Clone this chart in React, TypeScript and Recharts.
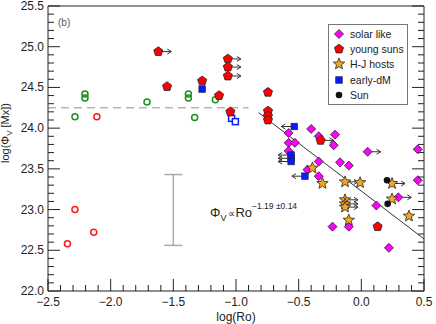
import {
  ComposedChart,
  Scatter,
  XAxis,
  YAxis,
  ReferenceLine,
  ErrorBar,
  Legend,
  Customized,
} from 'recharts';

// lim: 1 = lower limit on Ro (arrow right), -1 = upper limit (arrow left)
const solarLike = [
  { x: -0.58, y: 23.94 }, { x: -0.4, y: 23.99 }, { x: -0.34, y: 23.9 },
  { x: -0.21, y: 23.92 }, { x: -0.22, y: 23.79 }, { x: -0.58, y: 23.82 },
  { x: -0.53, y: 23.82 }, { x: -0.58, y: 23.72 }, { x: -0.34, y: 23.59 },
  { x: -0.43, y: 23.49 }, { x: -0.34, y: 23.41 }, { x: -0.17, y: 23.58 },
  { x: -0.1, y: 23.54 }, { x: 0.05, y: 23.71, lim: 1 }, { x: 0.45, y: 23.74 },
  { x: 0.45, y: 23.36 }, { x: 0.295, y: 23.15, lim: 1 }, { x: 0.12, y: 23.05 },
  { x: -0.23, y: 22.79 }, { x: -0.1, y: 22.79 }, { x: 0.22, y: 22.53 },
];

const youngSuns = [
  { x: -1.62, y: 24.94, lim: 1 }, { x: -1.55, y: 24.51 }, { x: -1.27, y: 24.58 },
  { x: -1.135, y: 24.4 }, { x: -1.065, y: 24.85, lim: 1 }, { x: -1.065, y: 24.75, lim: 1 },
  { x: -1.065, y: 24.64, lim: 1 }, { x: -1.045, y: 24.2 }, { x: -0.745, y: 24.44 },
  { x: -0.745, y: 24.21 }, { x: -0.745, y: 24.15 }, { x: -0.745, y: 24.1 },
  { x: -0.325, y: 23.85, lim: 1 }, { x: 0.13, y: 22.79 },
];

const hjHosts = [
  { x: -0.39, y: 23.51 }, { x: -0.31, y: 23.32 }, { x: -0.13, y: 23.34, lim: 1 },
  { x: -0.01, y: 23.33 }, { x: 0.245, y: 23.32, lim: 1 }, { x: 0.245, y: 23.13 },
  { x: -0.13, y: 23.12, lim: 1 }, { x: -0.13, y: 23.07, lim: 1 }, { x: -0.13, y: 23.03, lim: 1 },
  { x: -0.1, y: 22.87 }, { x: 0.38, y: 22.92 },
];

const earlyDM = [
  { x: -1.27, y: 24.48 }, { x: -0.535, y: 24.02, lim: -1 }, { x: -0.56, y: 23.67, lim: -1 },
  { x: -0.56, y: 23.63, lim: -1 }, { x: -0.56, y: 23.59, lim: -1 }, { x: -0.45, y: 23.41, lim: -1 },
];

const earlyDMOpen = [{ x: -1.035, y: 24.12 }, { x: -1.005, y: 24.08 }];

const sun = [{ x: 0.205, y: 23.36 }, { x: 0.21, y: 23.07 }];

const greenOpen = [
  { x: -2.285, y: 24.14 }, { x: -2.205, y: 24.42 }, { x: -2.205, y: 24.37 },
  { x: -1.71, y: 24.32 }, { x: -1.38, y: 24.42 }, { x: -1.38, y: 24.37 },
  { x: -1.33, y: 24.13 }, { x: -1.165, y: 24.35 },
];

const redOpen = [
  { x: -2.11, y: 24.14 }, { x: -2.285, y: 23.0 }, { x: -2.345, y: 22.58 }, { x: -2.135, y: 22.72 },
];

const fitLine = [{ x: -0.82, y: 24.19 }, { x: 0.5, y: 22.64 }];
const saturation = [{ x: -2.5, y: 24.25 }, { x: -0.9, y: 24.25 }];
const typicalError = [{ x: -1.5, y: 22.995, err: 0.435 }];

const xMajor = [-2.5, -2.0, -1.5, -1.0, -0.5, 0.0, 0.5];
const xMajorLabels = ['\u22122.5', '\u22122.0', '\u22121.5', '\u22121.0', '\u22120.5', '0.0', '0.5'];
const yMajor = [22.0, 22.5, 23.0, 23.5, 24.0, 24.5, 25.0, 25.5];
const yMajorLabels = ['22.0', '22.5', '23.0', '23.5', '24.0', '24.5', '25.0', '25.5'];

const minorTicks = (lo: number, hi: number) => {
  const out: number[] = [];
  for (let i = 0; i <= Math.round((hi - lo) * 10); i++) out.push(Math.round((lo + i * 0.1) * 10) / 10);
  return out;
};
const xTicks = minorTicks(-2.5, 0.5);
const yTicks = minorTicks(22, 25.5);

const INK = '#222';
const FONT = '"Liberation Sans", Arial, sans-serif';

const findLabel = (v: number, majors: number[], labels: string[]) => {
  const i = majors.findIndex((m) => Math.abs(m - v) < 1e-6);
  return i >= 0 ? labels[i] : null;
};

function AxisTick(props: any) {
  const { x, y, payload, side } = props;
  const v = payload.value;
  const isX = side === 'bottom' || side === 'top';
  const label = isX ? findLabel(v, xMajor, xMajorLabels) : findLabel(v, yMajor, yMajorLabels);
  const len = label ? 12 : 6;
  let x2 = x;
  let y2 = y;
  if (side === 'bottom') y2 = y - len;
  if (side === 'top') y2 = y + len;
  if (side === 'left') x2 = x + len;
  if (side === 'right') x2 = x - len;
  return (
    <g>
      <line x1={x} y1={y} x2={x2} y2={y2} stroke={INK} strokeWidth={1} />
      {label && side === 'bottom' && (
        <text x={x} y={y + 15} textAnchor="middle" fontSize={12} fill={INK} fontFamily={FONT}>
          {label}
        </text>
      )}
      {label && side === 'left' && (
        <text x={x - 4} y={y + 4} textAnchor="end" fontSize={12} fill={INK} fontFamily={FONT}>
          {label}
        </text>
      )}
    </g>
  );
}

function Arrow({ cx, cy, lim }: { cx: number; cy: number; lim?: number }) {
  if (!lim) return null;
  const tip = cx + lim * 13;
  return (
    <g stroke="#333" strokeWidth={1} fill="none">
      <line x1={cx} y1={cy} x2={tip} y2={cy} />
      <polyline points={`${tip - lim * 4},${cy - 2.5} ${tip},${cy} ${tip - lim * 4},${cy + 2.5}`} />
    </g>
  );
}

const pentagon = (cx: number, cy: number, r: number) =>
  [0, 1, 2, 3, 4]
    .map((i) => {
      const a = -Math.PI / 2 + (i * 2 * Math.PI) / 5;
      return `${cx + r * Math.cos(a)},${cy + r * Math.sin(a)}`;
    })
    .join(' ');

const star = (cx: number, cy: number, ro: number, ri: number) =>
  Array.from({ length: 10 }, (_, i) => {
    const a = -Math.PI / 2 + (i * Math.PI) / 5;
    const r = i % 2 === 0 ? ro : ri;
    return `${cx + r * Math.cos(a)},${cy + r * Math.sin(a)}`;
  }).join(' ');

function Marker({ kind, cx, cy }: { kind: string; cx: number; cy: number }) {
  switch (kind) {
    case 'solar':
      return (
        <polygon
          points={`${cx},${cy - 4.5} ${cx + 4.5},${cy} ${cx},${cy + 4.5} ${cx - 4.5},${cy}`}
          fill="#ff00ff"
          stroke="#222"
          strokeWidth={0.8}
        />
      );
    case 'young':
      return <polygon points={pentagon(cx, cy, 4.8)} fill="#ff0000" stroke="#222" strokeWidth={0.8} />;
    case 'hj':
      return <polygon points={star(cx, cy, 6, 2.6)} fill="#f5a623" stroke="#222" strokeWidth={0.8} />;
    case 'dm':
      return <rect x={cx - 3.3} y={cy - 3.3} width={6.6} height={6.6} fill="#0a1aff" stroke="#222" strokeWidth={0.6} />;
    case 'dmOpen':
      return <rect x={cx - 3} y={cy - 3} width={6} height={6} fill="#fff" stroke="#0a1aff" strokeWidth={1.5} />;
    case 'sun':
      return <circle cx={cx} cy={cy} r={3.3} fill="#111" />;
    case 'green':
      return <circle cx={cx} cy={cy} r={3} fill="none" stroke="#1f8f1f" strokeWidth={1.5} />;
    case 'redOpen':
      return <circle cx={cx} cy={cy} r={3} fill="none" stroke="#ff1a1a" strokeWidth={1.5} />;
    default:
      return null;
  }
}

const makeShape = (kind: string) => (props: any) => {
  const { cx, cy, payload } = props;
  return (
    <g>
      <Arrow cx={cx} cy={cy} lim={payload?.lim} />
      <Marker kind={kind} cx={cx} cy={cy} />
    </g>
  );
};

const legendItems = [
  { kind: 'solar', label: 'solar like' },
  { kind: 'young', label: 'young suns' },
  { kind: 'hj', label: 'H-J hosts' },
  { kind: 'dm', label: 'early-dM' },
  { kind: 'sun', label: 'Sun' },
];

function LegendBox() {
  return (
    <div
      style={{
        border: '1px solid #777',
        background: '#fff',
        padding: '1px 0 0 3px',
        width: 75,
        height: 78,
        fontFamily: FONT,
        fontSize: 10.5,
        color: INK,
        boxSizing: 'content-box',
        whiteSpace: 'nowrap',
        overflow: 'hidden',
      }}
    >
      {legendItems.map((it) => (
        <div key={it.label} style={{ display: 'flex', alignItems: 'center', height: 15.4 }}>
          <svg width={16} height={14} style={{ marginRight: 2, flex: 'none' }}>
            <Marker kind={it.kind} cx={7} cy={7} />
          </svg>
          <span>{it.label}</span>
        </div>
      ))}
    </div>
  );
}

function Annotations() {
  return (
    <g fontFamily={FONT} fill={INK}>
      <text x={58} y={26} fontSize={10} fill="#555">(b)</text>
      <text x={210} y={217} fontSize={13}>
        Φ
        <tspan fontSize={9} dy={4}>V</tspan>
        <tspan fontSize={10} dy={-4} dx={2}>∝</tspan>
        <tspan fontSize={13}>Ro</tspan>
        <tspan fontSize={8.5} dy={-8}>−1.19 ±0.14</tspan>
      </text>
      <text x={236} y={320.5} fontSize={12} textAnchor="middle">log(Ro)</text>
      <text x={9} y={133} fontSize={11} textAnchor="middle" transform="rotate(-90, 9, 133)">
        log(Φ
        <tspan fontSize={8} dy={3}>V</tspan>
        <tspan dy={-3}> [Mx])</tspan>
      </text>
    </g>
  );
}

export default function App() {
  return (
    <div style={{ position: 'absolute', left: 0, top: 0 }}>
      <ComposedChart
        width={436}
        height={324}
        margin={{ top: 5, right: 11, bottom: 32, left: 47 }}
        style={{ fontFamily: FONT, background: '#fff' }}
      >
        <XAxis
          dataKey="x"
          type="number"
          domain={[-2.5, 0.5]}
          ticks={xTicks}
          interval={0}
          height={1}
          tickSize={0}
          tickMargin={0}
          tickLine={false}
          axisLine={{ stroke: INK }}
          tick={<AxisTick side="bottom" />}
          allowDataOverflow
        />
        <XAxis
          xAxisId="top"
          orientation="top"
          type="number"
          domain={[-2.5, 0.5]}
          ticks={xTicks}
          interval={0}
          height={1}
          tickSize={0}
          tickMargin={0}
          tickLine={false}
          axisLine={{ stroke: INK }}
          tick={<AxisTick side="top" />}
          allowDataOverflow
        />
        <YAxis
          dataKey="y"
          type="number"
          domain={[22, 25.5]}
          ticks={yTicks}
          interval={0}
          width={1}
          tickSize={0}
          tickMargin={0}
          tickLine={false}
          axisLine={{ stroke: INK }}
          tick={<AxisTick side="left" />}
          allowDataOverflow
        />
        <YAxis
          yAxisId="right"
          orientation="right"
          type="number"
          domain={[22, 25.5]}
          ticks={yTicks}
          interval={0}
          width={1}
          tickSize={0}
          tickMargin={0}
          tickLine={false}
          axisLine={{ stroke: INK }}
          tick={<AxisTick side="right" />}
          allowDataOverflow
        />
        <ReferenceLine
          segment={saturation}
          stroke="#b5b5b5"
          strokeWidth={1.5}
          strokeDasharray="8 5"
          ifOverflow="visible"
        />
        <ReferenceLine segment={fitLine} stroke="#333" strokeWidth={1} ifOverflow="visible" />
        <Scatter data={typicalError} shape={() => <g />} isAnimationActive={false} legendType="none">
          <ErrorBar dataKey="err" direction="y" width={9} stroke="#aaa" strokeWidth={1.5} isAnimationActive={false} />
        </Scatter>
        <Scatter data={greenOpen} shape={makeShape('green')} isAnimationActive={false} />
        <Scatter data={redOpen} shape={makeShape('redOpen')} isAnimationActive={false} />
        <Scatter data={earlyDMOpen} shape={makeShape('dmOpen')} isAnimationActive={false} />
        <Scatter data={solarLike} shape={makeShape('solar')} isAnimationActive={false} />
        <Scatter data={youngSuns} shape={makeShape('young')} isAnimationActive={false} />
        <Scatter data={earlyDM} shape={makeShape('dm')} isAnimationActive={false} />
        <Scatter data={hjHosts} shape={makeShape('hj')} isAnimationActive={false} />
        <Scatter data={sun} shape={makeShape('sun')} isAnimationActive={false} />
        <Legend
          layout="vertical"
          align="center"
          verticalAlign="middle"
          content={() => <LegendBox />}
          wrapperStyle={{ left: 328, top: 24, width: 80, height: 82 }}
        />
        <Customized component={<Annotations />} />
      </ComposedChart>
    </div>
  );
}
